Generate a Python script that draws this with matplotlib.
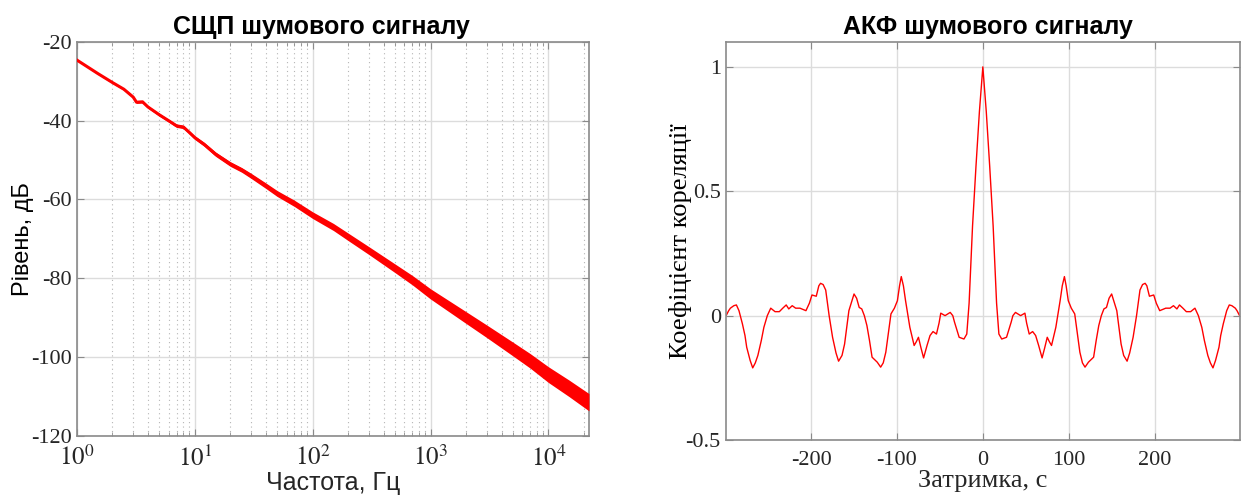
import numpy as np
import matplotlib
matplotlib.use('Agg')
import matplotlib.pyplot as plt
from matplotlib.ticker import LogLocator, NullFormatter, FixedLocator

# --- СЩП ---
freq_hz = [1, 1.5, 2, 2.5, 3, 3.2, 3.6, 4, 5, 6, 7, 8, 9, 10, 12, 15, 20, 25, 30,
           40, 50, 70, 100, 150, 200, 300, 500, 700, 1000, 2000, 3000, 5000,
           7000, 10000, 15000, 22050]
psd_db = [-24.6, -28.0, -30.3, -32.0, -34.0, -35.3, -35.2, -36.5, -38.5, -40.0,
          -41.3, -41.6, -43.0, -44.3, -46.0, -48.5, -51.0, -52.5, -54.0, -56.5,
          -58.5, -61.0, -64.0, -67.0, -69.5, -73.0, -77.5, -80.5, -84.0, -90.0,
          -93.5, -98.0, -101.0, -104.5, -108.0, -111.5]
# розкид шуму навколо середньої лінії, дБ
psd_spread = [0.2, 0.2, 0.25, 0.25, 0.3, 0.3, 0.3, 0.3, 0.35, 0.35, 0.4, 0.4, 0.4,
              0.45, 0.5, 0.55, 0.6, 0.6, 0.65, 0.7, 0.75, 0.8, 0.85, 0.9, 0.95,
              1.0, 1.1, 1.2, 1.3, 1.5, 1.6, 1.75, 1.85, 2.0, 2.1, 2.2]

# --- АКФ (від'ємні затримки, функція симетрична) ---
lag_neg = [-299, -296, -294, -290, -287, -284, -280, -277, -275, -271, -268, -265,
           -262, -258, -255, -251, -247, -242, -237, -233, -229, -226, -222, -218,
           -213, -206, -202, -199, -194, -191, -189, -186, -183, -179, -175, -171,
           -168, -164, -161, -156, -150, -147, -144, -141, -138, -135, -132, -129,
           -123, -119, -116, -113, -110, -107, -103, -99.5, -97, -95, -92.5, -90,
           -85, -80, -77.5, -75, -72, -69, -65, -61.5, -58, -54, -51, -49, -44,
           -38, -35, -33, -27.6, -22, -18.7, -16, -12, -8, -4, -2, 0]
acf_neg = [0.0, 0.02, 0.03, 0.04, 0.043, 0.02, -0.033, -0.08, -0.127, -0.18,
           -0.21, -0.19, -0.16, -0.1, -0.047, 0.0, 0.03, 0.016, 0.016, 0.03, 0.043,
           0.027, 0.04, 0.03, 0.03, 0.02, 0.05, 0.083, 0.078, 0.12, 0.13, 0.125,
           0.103, 0.0, -0.087, -0.15, -0.183, -0.16, -0.114, 0.02, 0.087, 0.07,
           0.033, 0.027, 0.0, -0.04, -0.1, -0.167, -0.187, -0.207, -0.19, -0.147,
           -0.07, 0.007, 0.03, 0.06, 0.12, 0.157, 0.12, 0.06, -0.047, -0.12, -0.105,
           -0.087, -0.13, -0.17, -0.12, -0.08, -0.064, -0.074, -0.03, 0.01, 0.0,
           0.013, 0.0, -0.026, -0.087, -0.094, -0.074, 0.05, 0.36, 0.6, 0.82, 0.91,
           1.0]

lag = np.concatenate([lag_neg, -np.array(lag_neg[-2::-1])])
acf = np.concatenate([acf_neg, acf_neg[-2::-1]])

plt.rcParams['mathtext.fontset'] = 'stix'
serif = ['Liberation Serif', 'DejaVu Serif']
sans = ['Liberation Sans', 'DejaVu Sans']
axis_col = '#8a8a8a'
text_col = '#262626'

fig = plt.figure(figsize=(12.43, 4.99), dpi=100)


def style_axes(ax):
    for s in ax.spines.values():
        s.set_color(axis_col)
        s.set_linewidth(1.2)
    ax.tick_params(which='both', direction='in', top=True, right=True,
                   colors=axis_col, labelcolor=text_col, labelsize=16)
    ax.tick_params(which='major', length=5)
    ax.tick_params(which='minor', length=3)


# ліва панель
ax1 = fig.add_axes([0.0619, 0.1269, 0.4119, 0.789])
f = np.array(freq_hz)
p = np.array(psd_db)
sp = np.array(psd_spread)
ax1.fill_between(f, p - sp, p + sp, color='red', lw=0, zorder=3)
ax1.plot(f, p, color='red', lw=2.2, zorder=3)
ax1.set_xscale('log')
ax1.set_xlim(1, 22050)
ax1.set_ylim(-120, -20)
ax1.xaxis.set_minor_locator(LogLocator(base=10, subs=np.arange(2, 10), numticks=20))
ax1.xaxis.set_minor_formatter(NullFormatter())
ax1.grid(True, which='major', color='#dcdcdc', lw=1.0)
ax1.grid(True, which='minor', axis='x', color='#b5b5b5', lw=0.8, ls=(0, (1, 3)))
ax1.set_axisbelow(True)
style_axes(ax1)
ax1.set_yticks([-120, -100, -80, -60, -40, -20])
ax1.set_yticklabels(['-120', '-100', '-80', '-60', '-40', '-20'], family=serif)
ax1.set_xticks([1, 10, 100, 1000, 10000])
ax1.set_xticklabels([r'$10^{0}$', r'$10^{1}$', r'$10^{2}$', r'$10^{3}$',
                     r'$10^{4}$'], fontsize=18)
ax1.tick_params(axis='x', which='major', pad=7)
ax1.set_title('СЩП шумового сигналу', family=sans, fontsize=18, fontweight='bold',
              pad=6, x=0.478)
ax1.set_xlabel('Частота, Гц', family=sans, fontsize=18, color=text_col, labelpad=0)
ax1.set_ylabel('Рівень, дБ', family=sans, fontsize=17, color='black')
ax1.yaxis.set_label_coords(-0.084, 0.5)

# права панель
ax2 = fig.add_axes([0.5838, 0.1182, 0.4138, 0.7976])
ax2.plot(lag, acf, color='red', lw=1.0)
ax2.set_xlim(-299.5, 299.5)
ax2.set_ylim(-0.5, 1.1)
ax2.xaxis.set_major_locator(FixedLocator([-200, -100, 0, 100, 200]))
ax2.yaxis.set_major_locator(FixedLocator([-0.5, 0, 0.5, 1]))
ax2.grid(True, color='#dcdcdc', lw=1.0)
ax2.set_axisbelow(True)
style_axes(ax2)
ax2.set_xticklabels(['-200', '-100', '0', '100', '200'], family=serif)
ax2.set_yticklabels(['-0.5', '0', '0.5', '1'], family=serif)
ax2.tick_params(axis='x', which='major', pad=8)
ax2.set_title('АКФ шумового сигналу', family=sans, fontsize=18, fontweight='bold',
              pad=6, x=0.51)
ax2.set_xlabel('Затримка, с', family=serif, fontsize=19, color=text_col, labelpad=0)
ax2.set_ylabel('Коефіцієнт кореляції', family=serif, fontsize=19, color='black')
ax2.yaxis.set_label_coords(-0.066, 0.5)

fig.savefig('out.png', dpi=100)
